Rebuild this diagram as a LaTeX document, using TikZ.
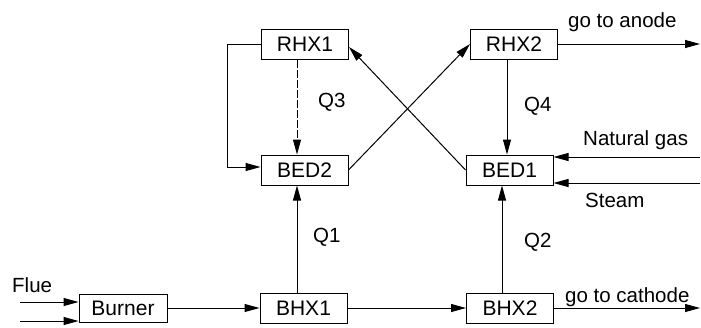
\documentclass[tikz,border=0pt]{standalone}
\usepackage{fontspec}
\setmainfont{Liberation Sans}
\usetikzlibrary{arrows.meta}
\begin{document}
\begin{tikzpicture}[x=1pt,y=-1pt,
  blk/.style={draw, line width=1pt, minimum width=87pt, minimum height=30pt, inner sep=0pt, font=\fontsize{21}{25}\selectfont},
  lbl/.style={inner sep=0pt, font=\fontsize{20.5}{24}\selectfont},
  flow/.style={line width=1pt, -{Triangle[length=15pt,width=8pt]}}]
\useasboundingbox (0,0) rectangle (701,327);
% blocks
\node[blk] (rhx1) at (305,44) {RHX1};
\node[blk] (rhx2) at (514,44) {RHX2};
\node[blk] (bed2) at (304.5,170) {BED2};
\node[blk] (bed1) at (509.5,170) {BED1};
\node[blk] (bhx1) at (303.5,308) {BHX1};
\node[blk] (bhx2) at (510,308) {BHX2};
\node[blk, minimum height=28pt, minimum width=88pt] (burner) at (123,308) {Burner};
% free ends
\coordinate (flue0) at (20,302);
\coordinate (air0) at (20,321);
\coordinate (cath) at (700,308);
\coordinate (anode) at (700,44);
\coordinate (ng) at (700,157);
\coordinate (st) at (700,183);
\coordinate (q1x) at (297,0);
\coordinate (q2x) at (502,0);
\coordinate (q4x) at (507,0);
% connectors
\draw[flow] (flue0) -- (flue0 -| burner.west);
\draw[flow] (air0) -- (air0 -| burner.west);
\draw[flow] (burner) -- (bhx1);
\draw[flow] (bhx1) -- (bhx2);
\draw[flow] (bhx2) -- (cath);
\draw[flow] (bhx1.north -| q1x) -- (bed2.south -| q1x);
\draw[flow] (bhx2.north -| q2x) -- (bed1.south -| q2x);
\draw[flow, dash pattern=on 8pt off 2pt] (rhx1.south -| q1x) -- (bed2.north -| q1x);
\draw[flow] (rhx2.south -| q4x) -- (bed1.north -| q4x);
\draw[flow] (rhx1.west) -- ++(-34,0) |- ([yshift=3pt]bed2.west);
\draw[flow] (bed2.east) -- (rhx2.west);
\draw[flow] (bed1.west) -- ([yshift=-3pt]rhx1.east);
\draw[flow] (rhx2) -- (anode);
\draw[flow] (ng) -- (ng -| bed1.east);
\draw[flow] (st) -- (st -| bed1.east);
% labels
\node[lbl, anchor=base west] (lanode) at (568,27) {go to anode};
\node[lbl, anchor=base west] (lcath) at (565,302) {go to cathode};
\node[lbl, anchor=base west] (lng) at (583,145) {Natural gas};
\node[lbl, anchor=base west] (lst) at (585,207) {Steam};
\node[lbl, anchor=base west] (lflue) at (12,292) {Flue};
\node[lbl, anchor=base west] (lq3) at (318,107) {Q3};
\node[lbl, anchor=base west] (lq1) at (313,242) {Q1};
\node[lbl, anchor=base west] (lq4) at (524,111) {Q4};
\node[lbl, anchor=base west] (lq2) at (524,247) {Q2};
\end{tikzpicture}
\end{document}
